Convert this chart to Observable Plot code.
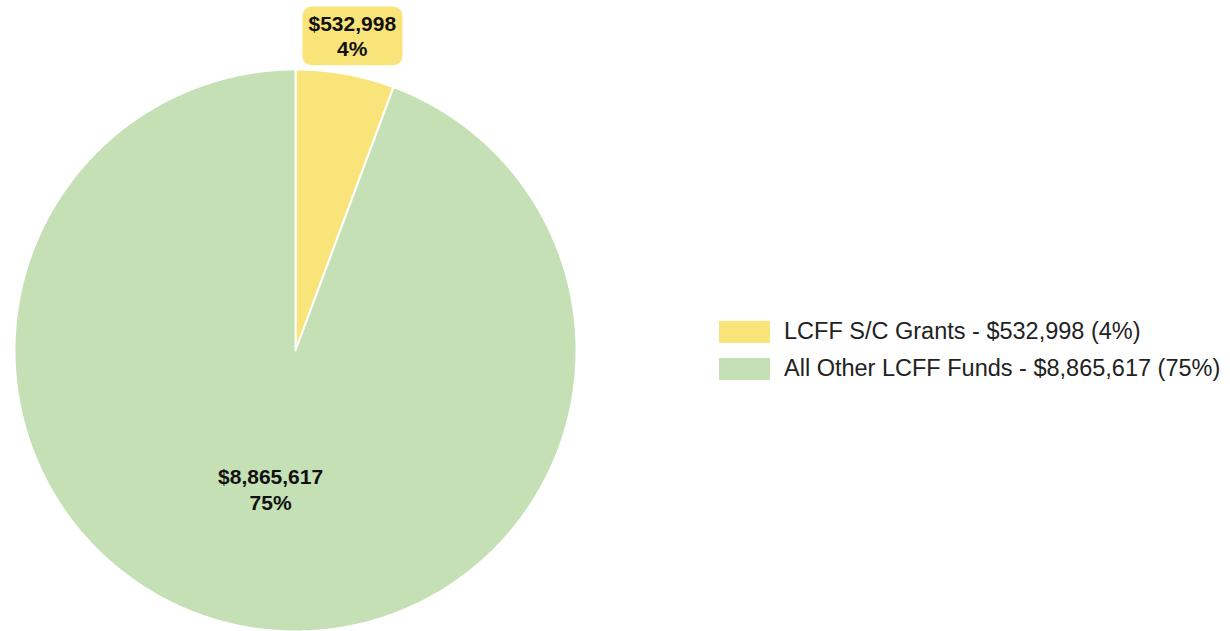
<!DOCTYPE html>
<html>
<head>
<meta charset="utf-8">
<script src="https://cdn.jsdelivr.net/npm/d3@7"></script>
<script src="https://cdn.jsdelivr.net/npm/@observablehq/plot@0.6"></script>
<style>
  html, body { margin: 0; padding: 0; background: #fff; }
  #wrap { position: relative; width: 1230px; height: 631px; overflow: hidden; font-family: "Liberation Sans", Arial, sans-serif; }
  #legend { position: absolute; left: 719px; top: 320px; }
  .row { display: flex; align-items: center; height: 23px; margin-bottom: 14px; }
  .sw { width: 51px; height: 22px; margin-right: 14px; }
  .lab { font-size: 23.5px; color: #222; white-space: nowrap; line-height: 23px; }
</style>
</head>
<body>
<div id="wrap"></div>
<script>
const categories = ["LCFF S/C Grants", "All Other LCFF Funds"];
const amounts = [532998, 8865617];
const percentLabels = ["4%", "75%"];
const colors = ["#f9e47a", "#c5e0b4"];

const fmt = d3.format("$,");
const arcs = d3.pie().sort(null).value(d => d)(amounts);

// polygon points for each slice (unit circle, angle 0 at 12 o'clock, clockwise)
const slicePts = [];
arcs.forEach((a, i) => {
  const cat = categories[i];
  slicePts.push({cat, x: 0, y: 0});
  const n = Math.max(2, Math.ceil((a.endAngle - a.startAngle) / (Math.PI / 360)));
  for (let k = 0; k <= n; k++) {
    const t = a.startAngle + (a.endAngle - a.startAngle) * k / n;
    slicePts.push({cat, x: Math.sin(t), y: Math.cos(t)});
  }
  slicePts.push({cat, x: 0, y: 0});
});

const labels = arcs.map((a, i) => {
  const mid = (a.startAngle + a.endAngle) / 2;
  const outside = (a.endAngle - a.startAngle) < 0.6;
  const r = outside ? 1.14 : 0.5;
  return {cat: categories[i], x: r * Math.sin(mid), y: r * Math.cos(mid), outside,
          text: fmt(amounts[i]) + "\n" + percentLabels[i]};
});

const chart = Plot.plot({
  width: 1230,
  height: 631,
  marginLeft: 14,
  marginRight: 654,
  marginTop: 69,
  marginBottom: 0,
  x: {domain: [-1, 1], axis: null},
  y: {domain: [-1, 1], axis: null},
  color: {domain: categories, range: colors},
  style: {fontFamily: "'Liberation Sans', Arial, sans-serif", background: "transparent"},
  marks: [
    Plot.line(slicePts, {x: "x", y: "y", z: "cat", fill: "cat", stroke: "white", strokeWidth: 2, curve: "linear", strokeLinejoin: "round"}),
    Plot.text(labels.filter(d => d.outside), {x: "x", y: "y", text: "text", fontSize: 21, fontWeight: "bold", fill: "#111", lineHeight: 1.22, lineAnchor: "middle", className: "boxed"}),
    Plot.text(labels.filter(d => !d.outside), {x: "x", y: "y", text: "text", fontSize: 21, fontWeight: "bold", fill: "#111", lineHeight: 1.22, lineAnchor: "middle"})
  ]
});

const wrap = document.getElementById("wrap");
wrap.appendChild(chart);

// rounded background box behind the outside label(s)
d3.select(chart).selectAll("g.boxed").each(function() {
  const g = this;
  const boxes = [];
  d3.select(g).selectAll("text").each(function() {
    const b = this.getBBox();
    const ctm = this.getAttribute("transform");
    boxes.push({b, ctm});
  });
  const outs = labels.filter(d => d.outside);
  boxes.forEach(({b, ctm}, i) => {
    const labelColor = colors[categories.indexOf(outs[i].cat)];
    const padX = 6, padY = 5;
    const rect = document.createElementNS("http://www.w3.org/2000/svg", "rect");
    rect.setAttribute("x", b.x - padX);
    rect.setAttribute("y", b.y - padY);
    rect.setAttribute("width", b.width + 2 * padX);
    rect.setAttribute("height", b.height + 2 * padY);
    rect.setAttribute("rx", 9);
    rect.setAttribute("fill", labelColor);
    if (ctm) rect.setAttribute("transform", ctm);
    g.insertBefore(rect, g.firstChild);
  });
});

// legend
const legend = document.createElement("div");
legend.id = "legend";
categories.forEach((c, i) => {
  const row = document.createElement("div");
  row.className = "row";
  const sw = document.createElement("div");
  sw.className = "sw";
  sw.style.background = colors[i];
  const lab = document.createElement("div");
  lab.className = "lab";
  lab.textContent = `${c} - ${fmt(amounts[i])} (${percentLabels[i]})`;
  row.appendChild(sw);
  row.appendChild(lab);
  legend.appendChild(row);
});
wrap.appendChild(legend);
</script>
</body>
</html>
